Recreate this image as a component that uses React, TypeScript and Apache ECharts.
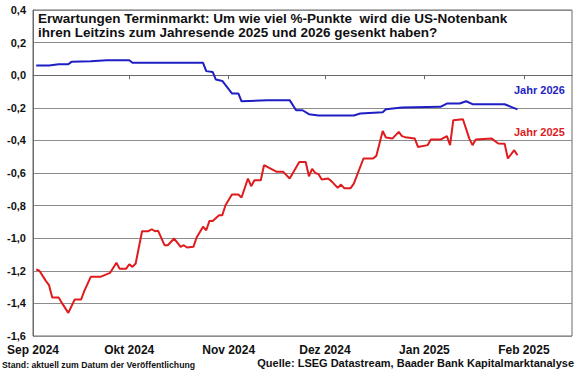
import React, { useEffect, useRef } from "react";
import * as echarts from "echarts";

const FONT = '"Liberation Sans", Arial, Helvetica, sans-serif';

const monthLabels = ["Jan", "Feb", "Mär", "Apr", "Mai", "Jun", "Jul", "Aug", "Sep", "Okt", "Nov", "Dez"];

const titleLines = [
  "Erwartungen Terminmarkt: Um wie viel %-Punkte  wird die US-Notenbank",
  "ihren Leitzins zum Jahresende 2025 und 2026 gesenkt haben?",
];
const seriesNames = ["Jahr 2026", "Jahr 2025"];
const footerLeft = "Stand: aktuell zum Datum der Veröffentlichung";
const footerRight = "Quelle: LSEG Datastream, Baader Bank Kapitalmarktanalyse";

const xMin = "2024-09-01";
const xMax = "2025-02-16";
const yMin = -1.6;
const yMax = 0.4;
const yStep = 0.2;

const blueDates = [
  "2024-09-02", "2024-09-06", "2024-09-09", "2024-09-12", "2024-09-13", "2024-09-19",
  "2024-09-24", "2024-10-01", "2024-10-02", "2024-10-24", "2024-10-25", "2024-10-27",
  "2024-10-28", "2024-10-30", "2024-11-02", "2024-11-04", "2024-11-05", "2024-11-13",
  "2024-11-20", "2024-11-22", "2024-11-24", "2024-11-26", "2024-11-29", "2024-12-10",
  "2024-12-12", "2024-12-19", "2024-12-20", "2024-12-25", "2025-01-06", "2025-01-08",
  "2025-01-12", "2025-01-14", "2025-01-16", "2025-01-26", "2025-01-28", "2025-01-30",
];
const blueValues = [
  0.06, 0.06, 0.067, 0.067, 0.082, 0.086,
  0.092, 0.092, 0.076, 0.076, 0.025, 0.02,
  -0.027, -0.035, -0.112, -0.112, -0.16, -0.153,
  -0.153, -0.215, -0.215, -0.239, -0.247, -0.247,
  -0.235, -0.227, -0.209, -0.198, -0.194, -0.174,
  -0.174, -0.16, -0.178, -0.178, -0.194, -0.21,
];

const redDates = [
  "2024-09-02", "2024-09-03", "2024-09-05", "2024-09-06", "2024-09-07", "2024-09-09",
  "2024-09-10", "2024-09-12", "2024-09-14", "2024-09-16", "2024-09-17", "2024-09-19",
  "2024-09-22", "2024-09-25", "2024-09-27", "2024-09-28", "2024-09-30", "2024-10-01",
  "2024-10-02", "2024-10-03", "2024-10-05", "2024-10-07", "2024-10-08", "2024-10-09",
  "2024-10-10", "2024-10-12", "2024-10-13", "2024-10-15", "2024-10-17", "2024-10-18",
  "2024-10-19", "2024-10-21", "2024-10-22", "2024-10-24", "2024-10-25", "2024-10-26",
  "2024-10-27", "2024-10-29", "2024-10-30", "2024-10-31", "2024-11-02", "2024-11-04",
  "2024-11-05", "2024-11-07", "2024-11-08", "2024-11-09", "2024-11-11", "2024-11-12",
  "2024-11-16", "2024-11-18", "2024-11-20", "2024-11-23", "2024-11-25", "2024-11-26",
  "2024-11-27", "2024-11-28", "2024-11-29", "2024-11-30", "2024-12-02", "2024-12-03",
  "2024-12-05", "2024-12-06", "2024-12-07", "2024-12-09", "2024-12-10", "2024-12-13",
  "2024-12-16", "2024-12-17", "2024-12-19", "2024-12-20", "2024-12-22", "2024-12-24",
  "2024-12-25", "2024-12-26", "2024-12-29", "2024-12-30", "2025-01-02", "2025-01-03",
  "2025-01-06", "2025-01-08", "2025-01-09", "2025-01-10", "2025-01-13", "2025-01-15",
  "2025-01-16", "2025-01-17", "2025-01-22", "2025-01-24", "2025-01-26", "2025-01-27",
  "2025-01-29", "2025-01-30",
];
const redValues = [
  -1.192, -1.2, -1.262, -1.288, -1.364, -1.364,
  -1.397, -1.458, -1.376, -1.376, -1.323, -1.237,
  -1.237, -1.213, -1.151, -1.188, -1.188, -1.16,
  -1.176, -1.155, -0.957, -0.957, -0.945, -0.957,
  -0.955, -1.043, -1.043, -1.002, -1.053, -1.043,
  -1.057, -1.053, -0.996, -0.93, -0.951, -0.894,
  -0.894, -0.859, -0.859, -0.798, -0.732, -0.732,
  -0.75, -0.634, -0.681, -0.644, -0.644, -0.552,
  -0.593, -0.593, -0.634, -0.532, -0.532, -0.62,
  -0.575, -0.6, -0.607, -0.64, -0.634, -0.65,
  -0.691, -0.671, -0.693, -0.693, -0.665, -0.511,
  -0.511, -0.495, -0.342, -0.382, -0.389, -0.348,
  -0.374, -0.38, -0.389, -0.44, -0.429, -0.395,
  -0.395, -0.374, -0.429, -0.276, -0.27, -0.389,
  -0.429, -0.395, -0.389, -0.419, -0.42, -0.511,
  -0.46, -0.491,
];

const BLUE = "#1e1ec4";
const RED = "#e01b1e";
const GRID_GRAY = "#8c8c8c";
const AXIS_GRAY = "#6a6a6a";

export default function App() {
  const ref = useRef<HTMLDivElement>(null);

  useEffect(() => {
    if (!ref.current) return;
    const chart = echarts.init(ref.current, null, { renderer: "svg" });
    const blueData = blueDates.map((d, i) => [d, blueValues[i]]);
    const redData = redDates.map((d, i) => [d, redValues[i]]);

    chart.setOption({
      animation: false,
      backgroundColor: "#ffffff",
      textStyle: { fontFamily: FONT },
      grid: {
        left: 33,
        right: 8,
        top: 10,
        bottom: 39,
        show: true,
        borderColor: AXIS_GRAY,
        borderWidth: 1,
        backgroundColor: "transparent",
      },
      xAxis: {
        type: "time",
        min: xMin,
        max: xMax,
        splitNumber: 6,
        axisLine: { show: true, lineStyle: { color: AXIS_GRAY, width: 1 } },
        axisTick: { show: true, length: 4, lineStyle: { color: AXIS_GRAY } },
        splitLine: { show: false },
        minorTick: { show: false },
        axisLabel: {
          color: "#111",
          fontFamily: FONT,
          fontSize: 12,
          fontWeight: "bold",
          margin: 8,
          hideOverlap: false,
          formatter: (v: number) => {
            const d = new Date(v);
            return monthLabels[d.getMonth()] + " " + d.getFullYear();
          },
        },
      },
      yAxis: {
        type: "value",
        min: yMin,
        max: yMax,
        interval: yStep,
        axisLine: { show: true, lineStyle: { color: AXIS_GRAY, width: 1 } },
        axisTick: { show: false },
        splitLine: { show: true, lineStyle: { color: GRID_GRAY, width: 1 } },
        axisLabel: {
          color: "#111",
          fontFamily: FONT,
          fontSize: 11,
          fontWeight: "bold",
          margin: 7,
          formatter: (v: number) => v.toFixed(1).replace(".", ",").replace("-0,0", "0,0"),
        },
      },
      series: [
        {
          name: seriesNames[0],
          type: "line",
          data: blueData,
          showSymbol: false,
          symbol: "none",
          lineStyle: { color: BLUE, width: 2 },
          itemStyle: { color: BLUE },
          z: 3,
        },
        {
          name: seriesNames[1],
          type: "line",
          data: redData,
          showSymbol: false,
          symbol: "none",
          lineStyle: { color: RED, width: 2 },
          itemStyle: { color: RED },
          z: 3,
        },
      ],
      graphic: [
        {
          type: "text",
          left: 38,
          top: 11,
          z: 10,
          style: {
            text: titleLines[0],
            fill: "#111",
            font: `bold 13.5px ${FONT}`,
          },
        },
        {
          type: "text",
          left: 38,
          top: 25,
          z: 10,
          style: {
            text: titleLines[1],
            fill: "#111",
            font: `bold 13.5px ${FONT}`,
          },
        },
        {
          type: "text",
          left: 514,
          top: 84,
          z: 10,
          style: { text: seriesNames[0], fill: BLUE, font: `bold 11px ${FONT}` },
        },
        {
          type: "text",
          left: 514,
          top: 126,
          z: 10,
          style: { text: seriesNames[1], fill: RED, font: `bold 11px ${FONT}` },
        },
        {
          type: "text",
          left: 2,
          top: 360,
          z: 10,
          style: { text: footerLeft, fill: "#111", font: `bold 8.7px ${FONT}` },
        },
        {
          type: "text",
          right: 6,
          top: 357,
          z: 10,
          style: { text: footerRight, fill: "#111", font: `bold 11px ${FONT}` },
        },
      ],
    });

    return () => chart.dispose();
  }, []);

  return (
    <div
      ref={ref}
      style={{ position: "fixed", left: 0, top: 0, width: 580, height: 375, background: "#fff" }}
    />
  );
}
